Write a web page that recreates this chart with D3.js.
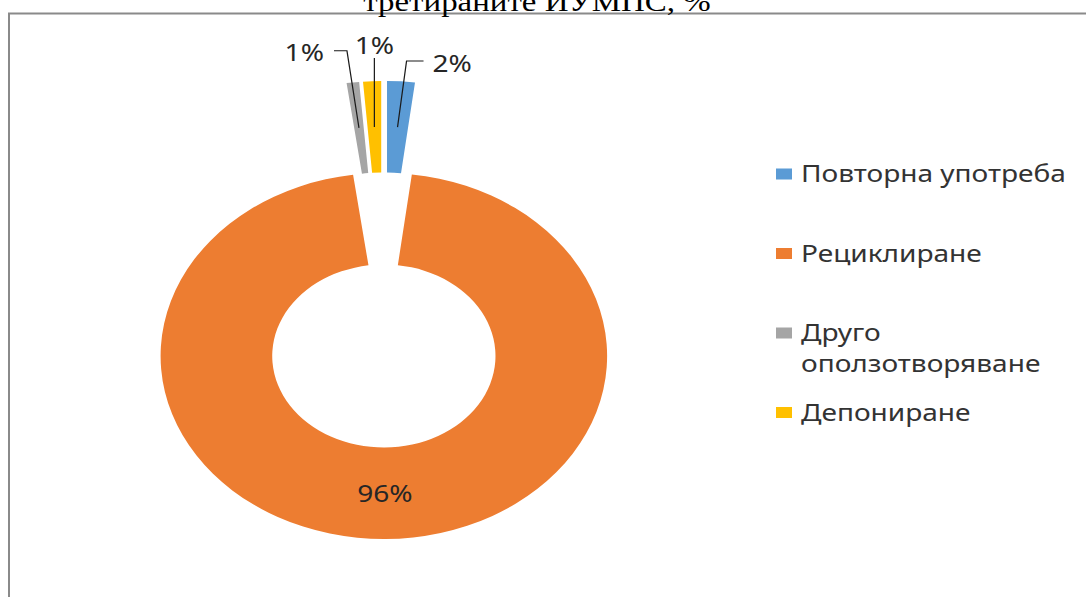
<!DOCTYPE html>
<html>
<head>
<meta charset="utf-8">
<script src="https://cdn.jsdelivr.net/npm/d3@7/dist/d3.min.js"></script>
<style>
  body { margin: 0; background: #fff; }
  svg { display: block; }
</style>
</head>
<body>
<div id="chart"></div>
<script>
const titleText = 'третираните ИУМПС, %';
const categories = ['Повторна употреба', 'Рециклиране', 'Друго оползотворяване', 'Депониране'];
const legendLines = [['Повторна употреба'], ['Рециклиране'], ['Друго', 'оползотворяване'], ['Депониране']];
const shares = [2.0, 95.8, 0.9, 1.3];
const colors = ['#5B9BD5', '#ED7D31', '#A5A5A5', '#FFC000'];

const width = 1086, height = 597;
const sx = 1.22; // the reference picture is stretched sideways
const font = '"Noto Sans", "Open Sans", sans-serif';

const svg = d3.select('#chart').append('svg')
    .attr('width', width)
    .attr('height', height);

// frame of the chart area (only top and left edges are visible)
svg.append('path')
    .attr('d', `M9,${height + 5}V13.5H${width + 5}`)
    .attr('fill', 'none')
    .attr('stroke', '#8a8a8a')
    .attr('stroke-width', 2);

const g = svg.append('g').attr('transform', `scale(${sx},1)`);

// title, mostly cut off by the top edge
g.append('text')
    .attr('x', 537 / sx)
    .attr('y', 11)
    .attr('text-anchor', 'middle')
    .attr('font-family', '"Liberation Serif", "Times New Roman", serif')
    .attr('font-size', 27)
    .attr('fill', '#000')
    .text(titleText);

// doughnut
const cx = 383.5 / sx, cy = 310, explode = 46;
const rOuter = 183, rInner = 91.5;

const arcs = d3.pie().sort(null).value(d => d)(shares);
const arc = d3.arc().innerRadius(rInner).outerRadius(rOuter);

function shift(d) {
    const mid = (d.startAngle + d.endAngle) / 2;
    return [cx + explode * Math.sin(mid), cy - explode * Math.cos(mid)];
}

const slices = g.append('g').selectAll('g.slice')
    .data(arcs)
    .join('g')
    .attr('class', 'slice')
    .attr('transform', d => `translate(${shift(d)})`);

slices.append('path')
    .attr('d', arc)
    .attr('fill', (d, i) => colors[i]);

// data labels: big one inside, small ones with leader lines
const labelLayout = [
    { dx: 9, dy: -66, run: 17, anchor: 'start' },
    null,
    { dx: -12, dy: -77, run: -13, anchor: 'end' },
    { dx: 0, dy: -69, run: 0, anchor: 'middle' }
];

const labels = g.append('g')
    .attr('font-family', font)
    .attr('font-size', 23)
    .attr('fill', '#262626');

arcs.forEach((d, i) => {
    const [ox, oy] = shift(d);
    const [px, py] = arc.centroid(d);
    const x0 = ox + px, y0 = oy + py;
    const text = Math.round(d.data) + '%';
    const lay = labelLayout[i];
    if (!lay) {
        labels.append('text')
            .attr('x', x0)
            .attr('y', y0)
            .attr('text-anchor', 'middle')
            .attr('dominant-baseline', 'central')
            .text(text);
        return;
    }
    const ex = x0 + lay.dx / sx, ey = y0 + lay.dy;
    const fx = ex + lay.run / sx;
    labels.append('path')
        .attr('d', `M${x0},${y0}L${ex},${ey}H${fx}`)
        .attr('fill', 'none')
        .attr('stroke', '#1a1a1a')
        .attr('stroke-width', 1.1 / Math.sqrt(sx));
    const tx = lay.anchor === 'start' ? fx + 9 / sx : lay.anchor === 'end' ? fx - 10 / sx : fx;
    const ty = lay.anchor === 'middle' ? ey - 3.5 : ey + 10.5;
    labels.append('text')
        .attr('x', tx)
        .attr('y', ty)
        .attr('text-anchor', lay.anchor)
        .text(text);
});

// legend
const legendY = d3.scalePoint().domain(categories).range([182.5, 421]);
const legend = g.append('g')
    .attr('font-family', font)
    .attr('font-size', 23)
    .attr('fill', '#333');

categories.forEach((c, i) => {
    const y = legendY(c);
    legend.append('rect')
        .attr('x', 776 / sx)
        .attr('y', y - 14)
        .attr('width', 16 / sx)
        .attr('height', 11)
        .attr('fill', colors[i]);
    legend.append('text')
        .attr('x', 801 / sx)
        .attr('y', y)
        .selectAll('tspan')
        .data(legendLines[i])
        .join('tspan')
        .attr('x', 801 / sx)
        .attr('dy', (t, k) => k === 0 ? 0 : 31)
        .text(t => t);
});
</script>
</body>
</html>
